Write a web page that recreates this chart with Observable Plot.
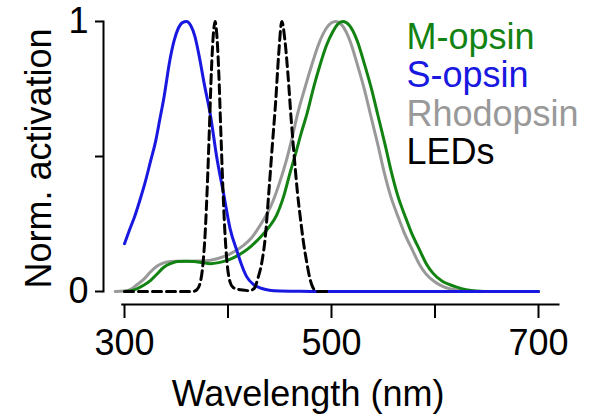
<!DOCTYPE html>
<html><head><meta charset="utf-8">
<script src="https://cdn.jsdelivr.net/npm/d3@7"></script>
<script src="https://cdn.jsdelivr.net/npm/@observablehq/plot@0.6"></script>
<style>body{margin:0;background:#fff}</style>
</head><body><div id="chart"></div>
<script>
// ---- data ----
const xTicks = [300, 400, 500, 600, 700];
const xTickLabels = ["300", "", "500", "", "700"];
const yTicks = [0, 0.5, 1];
const yTickLabels = ["0", "", "1"];
const xTitle = "Wavelength (nm)";
const yTitle = "Norm. activation";

const seriesNames = ["M-opsin", "S-opsin", "Rhodopsin", "LEDs"];
const seriesColors = ["#128312", "#1818e0", "#999999", "#000000"];

// Rhodopsin (gray)
const rhoNm  = [291,300,306,312,319,325,330,336,341,350,360,370,383,391,399,407,415,423,431,438,444,450,456,462,467,474,481,488,495,500,504,510,518,525,532,538,545,551,557,564,570,578,585,591,600,608,620,630,645,660,700];
const rhoVal = [0,0.002,0.008,0.025,0.047,0.072,0.09,0.103,0.109,0.112,0.112,0.113,0.116,0.123,0.134,0.15,0.171,0.2,0.245,0.29,0.34,0.405,0.48,0.57,0.654,0.75,0.84,0.92,0.975,0.995,1.0,0.987,0.927,0.84,0.745,0.65,0.54,0.44,0.355,0.28,0.22,0.155,0.1,0.066,0.035,0.018,0.006,0.002,0,0,0];

// M-opsin (green)
const mNm  = [300,305,312,318,325,331,338,345,351,360,367,375,383,391,399,407,415,423,431,440,447,454,460,466,471,476,483,489,495,501,506,511,517,525,532,539,545,552,558,564,571,577,585,592,598,607,615,621,630,640,655,700];
const mVal = [0,0.002,0.01,0.022,0.04,0.063,0.09,0.104,0.111,0.112,0.111,0.107,0.103,0.107,0.115,0.128,0.146,0.17,0.2,0.24,0.283,0.355,0.44,0.52,0.59,0.654,0.76,0.84,0.91,0.96,0.99,1.0,0.987,0.927,0.84,0.745,0.65,0.54,0.44,0.355,0.28,0.22,0.155,0.1,0.068,0.038,0.024,0.016,0.007,0.002,0,0];

// S-opsin (blue)
const sNm  = [300,305,310,315,320,325,330,334,338,344,348,352,356,360,364,368,372,377,383,389,396,402,409,413,418,425,432,440,450,465,480,700];
const sVal = [0.177,0.23,0.28,0.34,0.405,0.48,0.555,0.635,0.716,0.86,0.93,0.975,0.996,1.0,0.985,0.945,0.875,0.77,0.654,0.5,0.357,0.233,0.146,0.1,0.055,0.025,0.012,0.005,0.002,0.001,0,0];

// LEDs (black dashed)
const ledNm  = [300,330,360,366,370,373,376,378,380,382,384,386,387.5,389,391,393,395,397,399,402,405,410,416,420,425,429,433,436,439.5,443,446,449,452,455,458,461,464,467,470,473,476,479,482,486,500];
const ledVal = [0,0,0,0,0.007,0.03,0.11,0.22,0.39,0.6,0.82,0.96,1,0.96,0.82,0.6,0.39,0.22,0.11,0.035,0.015,0.008,0.005,0.003,0.01,0.05,0.115,0.2,0.37,0.55,0.7,0.88,1,0.93,0.8,0.64,0.5,0.37,0.27,0.18,0.11,0.05,0.015,0,0];

// ---- build tables ----
const rows = (nm, val) => nm.map((x, i) => ({nm: x, v: val[i]}));
const rho = rows(rhoNm, rhoVal);
const mop = rows(mNm, mVal);
const sop = rows(sNm, sVal);
const led = rows(ledNm, ledVal);

const lineOpts = (color) => ({x: "nm", y: "v", stroke: color, strokeWidth: 3, curve: "monotone-x"});

const legendMarks = seriesNames.map((name, i) =>
  Plot.text([name], {
    frameAnchor: "top-left", textAnchor: "start", lineAnchor: "middle",
    dx: 303, dy: 15.8 + i * 38.4, fill: seriesColors[i], fontSize: 36
  })
);

const chart = Plot.plot({
  width: 593, height: 416,
  marginLeft: 103, marginRight: 35, marginTop: 21, marginBottom: 112,
  style: {fontFamily: "'Liberation Sans', Arial, sans-serif", fontSize: "36px", background: "white", color: "black", overflow: "visible"},
  x: {domain: [300, 700], insetLeft: 21, insetRight: 20},
  y: {domain: [0, 1], insetBottom: 13},
  marks: [
    Plot.frame({anchor: "left", insetBottom: 13, stroke: "black", strokeWidth: 2}),
    Plot.frame({anchor: "bottom", insetLeft: 18.7, stroke: "black", strokeWidth: 2}),
    Plot.axisX({ticks: xTicks, tickSize: 14, tickPadding: 11, strokeWidth: 2, label: null,
      tickFormat: d => xTickLabels[xTicks.indexOf(d)], fontSize: 36}),
    Plot.axisY({ticks: yTicks, tickSize: 8, tickPadding: 7, strokeWidth: 2, label: null,
      tickFormat: d => yTickLabels[yTicks.indexOf(d)], fontSize: 36}),
    Plot.line(rho, lineOpts(seriesColors[2])),
    Plot.line(mop, lineOpts(seriesColors[0])),
    Plot.line(sop, lineOpts(seriesColors[1])),
    Plot.line(led, {...lineOpts(seriesColors[3]), strokeDasharray: "9,5"}),
    Plot.text([xTitle], {frameAnchor: "bottom", textAnchor: "middle", lineAnchor: "middle", dx: -23, dy: 89.5, fontSize: 36}),
    Plot.text([yTitle], {frameAnchor: "left", textAnchor: "middle", lineAnchor: "middle", rotate: -90, dx: -64.5, dy: -4.5, fontSize: 36}),
    ...legendMarks
  ]
});
document.getElementById("chart").appendChild(chart);
</script>
</body></html>
